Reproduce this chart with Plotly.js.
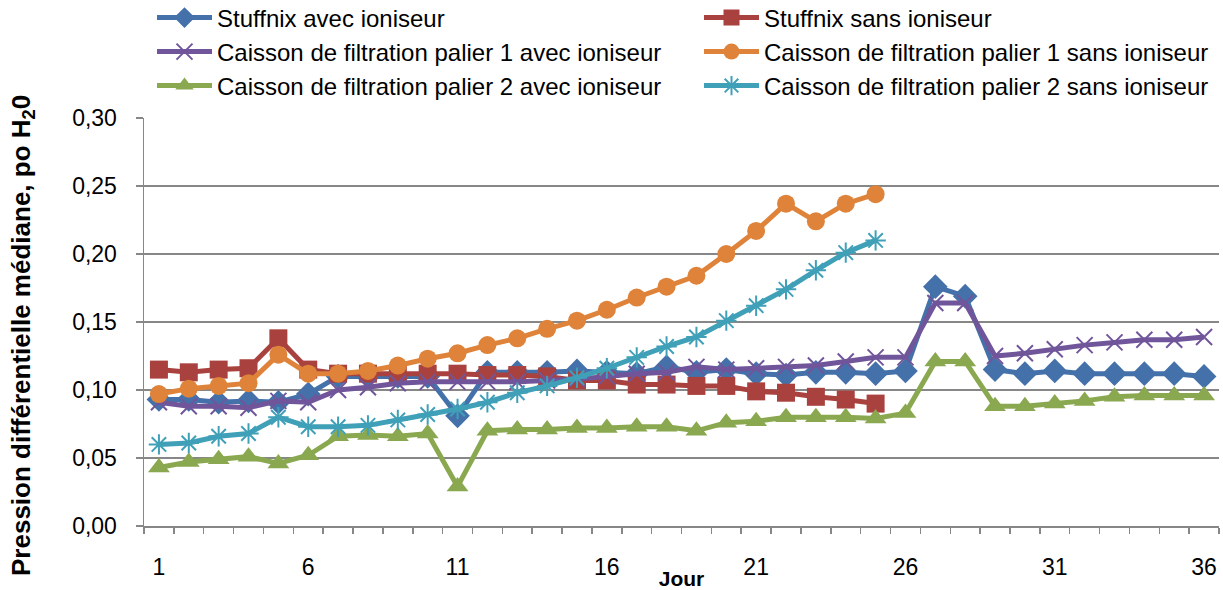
<!DOCTYPE html>
<html>
<head>
<meta charset="utf-8">
<script src="https://cdn.plot.ly/plotly-3.0.1.min.js"></script>
<style>
html,body{margin:0;padding:0;background:#fff;}
#chart{width:1223px;height:590px;}
</style>
</head>
<body>
<div id="chart"></div>
<script>
// Data
const days = [1,2,3,4,5,6,7,8,9,10,11,12,13,14,15,16,17,18,19,20,21,22,23,24,25,26,27,28,29,30,31,32,33,34,35,36];
const daysShort = [1,2,3,4,5,6,7,8,9,10,11,12,13,14,15,16,17,18,19,20,21,22,23,24,25];
const xTickVals = [1,6,11,16,21,26,31,36];
const xTickText = ["1","6","11","16","21","26","31","36"];
const yTickVals = [0,0.05,0.10,0.15,0.20,0.25,0.30];
const yTitle = "<b>Pression différentielle médiane, po H<sub>2</sub>0</b>";
const xTitle = "<b>Jour</b>";

const seriesNames = [
  "Stuffnix avec ioniseur",
  "Stuffnix sans ioniseur",
  "Caisson de filtration palier 1 avec ioniseur",
  "Caisson de filtration palier 1 sans ioniseur",
  "Caisson de filtration palier 2 avec ioniseur",
  "Caisson de filtration palier 2 sans ioniseur"
];

const stuffnixAvec = [0.093,0.093,0.091,0.092,0.091,0.097,0.110,0.110,0.110,0.110,0.081,0.113,0.113,0.113,0.114,0.113,0.112,0.117,0.113,0.115,0.112,0.111,0.113,0.113,0.112,0.114,0.176,0.169,0.115,0.112,0.114,0.112,0.112,0.112,0.112,0.110];
const stuffnixSans = [0.115,0.113,0.115,0.116,0.138,0.115,0.112,0.112,0.112,0.112,0.112,0.111,0.111,0.110,0.107,0.107,0.104,0.104,0.103,0.103,0.099,0.098,0.095,0.093,0.090];
const palier1Avec = [0.091,0.088,0.088,0.087,0.092,0.091,0.100,0.102,0.105,0.106,0.106,0.106,0.106,0.107,0.108,0.110,0.112,0.113,0.117,0.115,0.116,0.117,0.118,0.121,0.124,0.124,0.164,0.164,0.125,0.127,0.130,0.133,0.135,0.137,0.137,0.139];
const palier1Sans = [0.097,0.101,0.103,0.105,0.126,0.112,0.112,0.114,0.118,0.123,0.127,0.133,0.138,0.145,0.151,0.159,0.168,0.176,0.184,0.200,0.217,0.237,0.224,0.237,0.244];
const palier2Avec = [0.043,0.047,0.049,0.051,0.046,0.052,0.066,0.067,0.066,0.068,0.029,0.070,0.071,0.071,0.072,0.072,0.073,0.073,0.070,0.076,0.077,0.080,0.080,0.080,0.079,0.083,0.121,0.121,0.088,0.088,0.090,0.092,0.095,0.096,0.096,0.096];
const palier2Sans = [0.060,0.061,0.066,0.068,0.080,0.073,0.073,0.074,0.078,0.082,0.086,0.091,0.098,0.103,0.109,0.116,0.124,0.132,0.139,0.151,0.162,0.174,0.188,0.201,0.210];

const FONT = "Liberation Sans, Arial, sans-serif";
const GRID = "#878787";
const W = 1223, H = 590, ML = 144, MR = 4, MT = 118, MB = 64;
const PW = W - ML - MR, PH = H - MT - MB;

function mk(x, y, name, color, symbol, size, legendId, openSymbol) {
  const marker = {symbol: symbol, size: size, color: color};
  if (openSymbol) marker.line = {color: color, width: 2};
  else marker.line = {width: 0};
  return {
    x: x, y: y, name: name, type: "scatter", mode: "lines+markers",
    line: {color: color, width: 5},
    marker: marker, legend: legendId, cliponaxis: false
  };
}

const data = [
  mk(days, stuffnixAvec, seriesNames[0], "#4471A9", "diamond", 19, "legend", false),
  mk(daysShort, stuffnixSans, seriesNames[1], "#A9423F", "square", 18, "legend2", false),
  mk(days, palier1Avec, seriesNames[2], "#71559B", "x-thin-open", 16, "legend3", true),
  mk(daysShort, palier1Sans, seriesNames[3], "#DE8339", "circle", 18, "legend4", false),
  mk(days, palier2Avec, seriesNames[4], "#8AA84F", "triangle-up", 19, "legend5", false),
  mk(daysShort, palier2Sans, seriesNames[5], "#3FA0B8", "asterisk-open", 17, "legend6", true)
];

function leg(xPix, yPix) {
  return {
    orientation: "v", xref: "container", yref: "container",
    x: xPix/W, y: 1 - yPix/H, xanchor: "left", yanchor: "middle",
    itemwidth: 55,
    font: {family: FONT, size: 24, color: "#000"},
    bgcolor: "rgba(0,0,0,0)", borderwidth: 0
  };
}

const layout = {
  width: W, height: H,
  margin: {l: ML, r: MR, t: MT, b: MB, pad: 0, autoexpand: false},
  paper_bgcolor: "#fff", plot_bgcolor: "#fff",
  separators: ", ",
  font: {family: FONT, size: 23, color: "#000"},
  showlegend: true,
  legend: leg(152, 18),
  legend2: leg(699, 18),
  legend3: leg(152, 52),
  legend4: leg(699, 52),
  legend5: leg(152, 86),
  legend6: leg(699, 86),
  xaxis: {
    range: [0.5, 36.5], tickmode: "array", tickvals: xTickVals, ticktext: xTickText,
    showgrid: false, zeroline: false, showline: true, linecolor: GRID, linewidth: 1.5,
    ticks: "", ticklabelstandoff: 20, automargin: false,
    tickfont: {family: FONT, size: 23, color: "#000"},
    minor: {tickmode: "linear", tick0: 0.5, dtick: 1, ticks: "outside", ticklen: 6, tickwidth: 1.5, tickcolor: GRID, showgrid: false},
    title: {text: xTitle, font: {family: FONT, size: 21, color: "#000"}, standoff: 0}
  },
  yaxis: {
    range: [0, 0.30], tickmode: "array", tickvals: yTickVals,
    tickformat: ".2f", showgrid: true, gridcolor: GRID, gridwidth: 1.5,
    zeroline: false, showline: true, linecolor: GRID, linewidth: 1.5,
    ticks: "outside", ticklen: 7, tickwidth: 1.5, tickcolor: GRID,
    ticklabelstandoff: 14, automargin: false,
    tickfont: {family: FONT, size: 23, color: "#000"}
  },
  annotations: [{
    text: yTitle, textangle: -90, showarrow: false,
    xref: "paper", yref: "paper",
    x: (22 - ML) / PW, y: (H - MB - 336) / PH,
    xanchor: "center", yanchor: "middle",
    font: {family: FONT, size: 26, color: "#000"}
  }]
};

Plotly.newPlot("chart", data, layout, {displayModeBar: false, staticPlot: true});
</script>
</body>
</html>
